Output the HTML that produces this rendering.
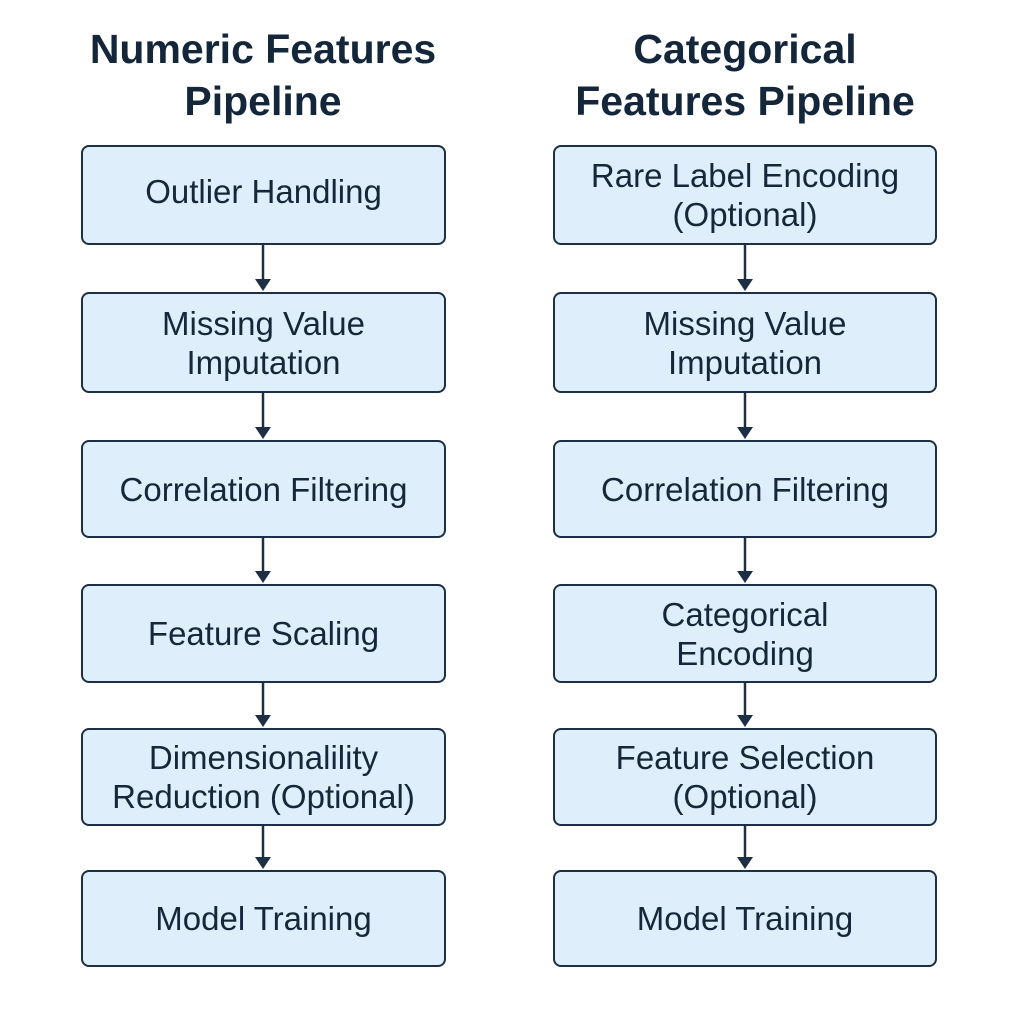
<!DOCTYPE html>
<html><head><style>
body{margin:0;width:1024px;height:1024px;background:#fff;position:relative;font-family:"Liberation Sans",sans-serif;overflow:hidden}
.t{position:absolute;text-align:center;font-weight:bold;font-size:41px;line-height:52px;color:#14263a}
.b{position:absolute;box-sizing:border-box;border:2.5px solid #1c2f45;border-radius:8px;background:#deeefb;display:flex;align-items:center;justify-content:center;text-align:center;font-size:33px;line-height:39px;color:#16273a}
</style></head><body>
<div class="t" style="left:13px;top:23px;width:500px">Numeric Features<br>Pipeline</div>
<div class="t" style="left:495px;top:23px;width:500px">Categorical<br>Features Pipeline</div>

<div class="b" style="left:81px;top:145px;width:365px;height:100px;padding-bottom:8px">Outlier Handling</div>
<div class="b" style="left:81px;top:292px;width:365px;height:101px">Missing Value<br>Imputation</div>
<div class="b" style="left:81px;top:440px;width:365px;height:98px">Correlation Filtering</div>
<div class="b" style="left:81px;top:584px;width:365px;height:99px">Feature Scaling</div>
<div class="b" style="left:81px;top:728px;width:365px;height:98px">Dimensionalility<br>Reduction (Optional)</div>
<div class="b" style="left:81px;top:870px;width:365px;height:97px">Model Training</div>

<div class="b" style="left:553px;top:145px;width:384px;height:100px">Rare Label Encoding<br>(Optional)</div>
<div class="b" style="left:553px;top:292px;width:384px;height:101px">Missing Value<br>Imputation</div>
<div class="b" style="left:553px;top:440px;width:384px;height:98px">Correlation Filtering</div>
<div class="b" style="left:553px;top:584px;width:384px;height:99px">Categorical<br>Encoding</div>
<div class="b" style="left:553px;top:728px;width:384px;height:98px">Feature Selection<br>(Optional)</div>
<div class="b" style="left:553px;top:870px;width:384px;height:97px">Model Training</div>

<svg width="1024" height="1024" style="position:absolute;left:0;top:0">
<g stroke="#1c2f45" stroke-width="2.5" fill="#1c2f45">
<line x1="263" y1="245" x2="263" y2="282"/><polygon points="255,279 271,279 263,291" stroke="none"/>
<line x1="263" y1="393" x2="263" y2="430"/><polygon points="255,427 271,427 263,439" stroke="none"/>
<line x1="263" y1="538" x2="263" y2="574"/><polygon points="255,571 271,571 263,583" stroke="none"/>
<line x1="263" y1="683" x2="263" y2="718"/><polygon points="255,715 271,715 263,727" stroke="none"/>
<line x1="263" y1="826" x2="263" y2="860"/><polygon points="255,857 271,857 263,869" stroke="none"/>
<line x1="745" y1="245" x2="745" y2="282"/><polygon points="737,279 753,279 745,291" stroke="none"/>
<line x1="745" y1="393" x2="745" y2="430"/><polygon points="737,427 753,427 745,439" stroke="none"/>
<line x1="745" y1="538" x2="745" y2="574"/><polygon points="737,571 753,571 745,583" stroke="none"/>
<line x1="745" y1="683" x2="745" y2="718"/><polygon points="737,715 753,715 745,727" stroke="none"/>
<line x1="745" y1="826" x2="745" y2="860"/><polygon points="737,857 753,857 745,869" stroke="none"/>
</g></svg>
</body></html>
